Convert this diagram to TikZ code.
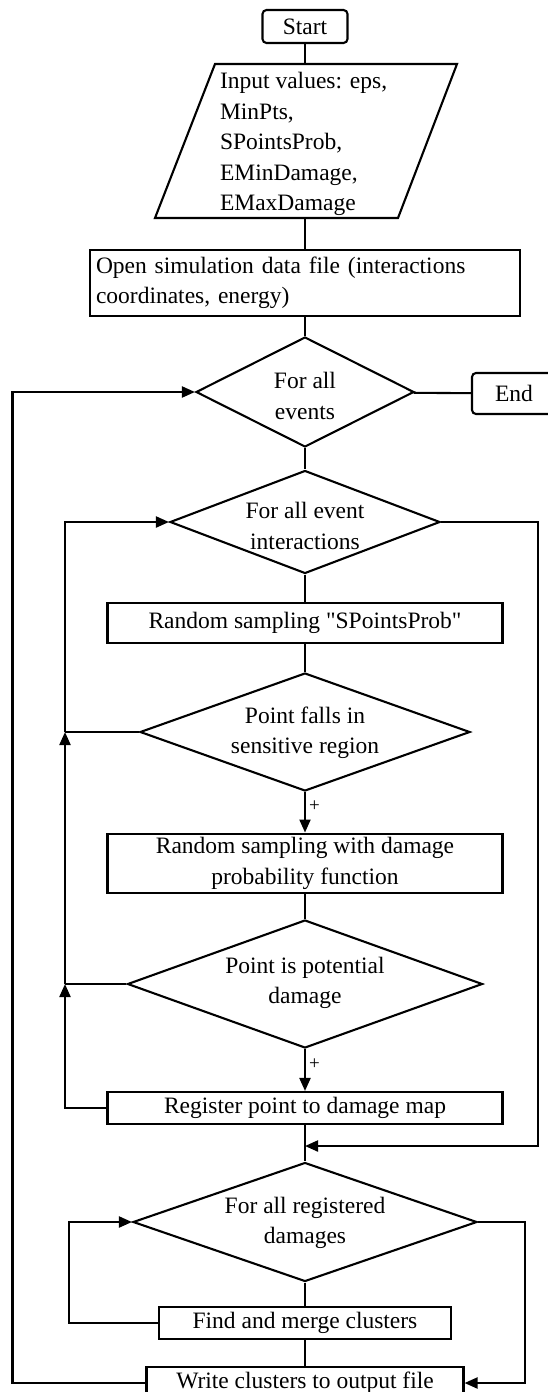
\documentclass[tikz,border=0pt]{standalone}
\usepackage{fontspec}
\setmainfont{Liberation Serif}
\usetikzlibrary{arrows.meta,shapes.geometric}
\tikzset{
  flowbox/.style={draw, rectangle, inner sep=4pt, minimum height=32pt},
  termbox/.style={draw, rectangle, rounded corners=4pt, inner sep=2pt},
  decision/.style={draw, diamond, inner sep=0pt},
  flowtext/.style={align=center, inner sep=0pt},
  signlabel/.style={font=\fontsize{19}{19}\selectfont, inner sep=3pt},
}
\begin{document}
\begin{tikzpicture}[x=1pt, y=-1pt, >={Triangle[length=13pt,width=11pt]}, line width=2.1pt, every node/.style={font=\fontsize{23.5}{30.5}\selectfont}]
      \useasboundingbox (0,0) rectangle (548,1392);

      \node[termbox, minimum width=85pt, minimum height=33pt] (start) at (305,26.5) {Start};
      \draw (215,64) -- (457,64) -- (398,218) -- (155,218) -- cycle;
      \coordinate (inptop) at (305,64);
      \coordinate (inpbot) at (305,218);
      \node[align=left, anchor=west, inner sep=0pt] (inptext) at (219,144) {Input values: eps,\\MinPts,\\SPointsProb,\\EMinDamage,\\EMaxDamage};
      \node[flowbox, text width=418pt, align=left, inner sep=6pt, minimum height=66pt] (open) at (305,283) {Open simulation data file (interactions\\coordinates, energy)};
      \node[decision, minimum width=218pt, minimum height=110pt] (d1) at (305,392) {};
      \node[flowtext] (d1text) at (305,396) {For all\\events};
      \node[termbox, minimum width=84pt, minimum height=41pt] (end) at (514,393.5) {End};
      \node[decision, minimum width=270pt, minimum height=103pt] (d2) at (305,522) {};
      \node[flowtext] (d2text) at (305,526) {For all event\\interactions};
      \node[flowbox, minimum width=395pt, minimum height=40pt] (samp) at (305,623) {Random sampling \textquotedbl SPointsProb\textquotedbl};
      \node[decision, minimum width=330pt, minimum height=118pt] (d3) at (305,732) {};
      \node[flowtext] (d3text) at (305,733) {Point falls in\\sensitive region};
      \node[flowbox, minimum width=395pt, minimum height=59pt, align=center] (dmg) at (305,863.5) {Random sampling with damage\\probability function};
      \node[decision, minimum width=355pt, minimum height=128pt] (d4) at (305,984) {};
      \node[flowtext] (d4text) at (305,983) {Point is potential\\damage};
      \node[flowbox, minimum width=395pt] (reg) at (305,1108) {Register point to damage map};
      \node[decision, minimum width=344pt, minimum height=119pt] (d5) at (305,1222) {};
      \node[flowtext] (d5text) at (305,1223) {For all registered\\damages};
      \node[flowbox, minimum width=292pt] (find) at (305,1323) {Find and merge clusters};
      \node[flowbox, minimum width=317pt] (write) at (305,1383) {Write clusters to output file};

      \coordinate (jA) at (65,984);
      \coordinate (jB) at (65,732);
      \coordinate (jC) at (305,1146);

      \draw (start) -- (inptop);
      \draw (inpbot) -- (open);
      \draw (open) -- (d1);
      \draw (d1) -- (end);
      \draw (d1) -- (d2);
      \draw (d2) -- (samp);
      \draw (samp) -- (d3);
      \draw[->] (d3) -- (dmg) node[signlabel, pos=0.35, right] {+};
      \draw (dmg) -- (d4);
      \draw[->] (d4) -- (reg) node[signlabel, pos=0.35, right] {+};
      \draw (reg) -- (d5);
      \draw (d5) -- (find);
      \draw (find) -- (write);

      \draw[->] (d2.east) -- ++(97,0) |- (jC);
      \draw (d3.west) -- (jB);
      \draw (d4.west) -- (jA);
      \draw[->] (reg.west) -| (jA);
      \draw[->] (jA) -- (jB);
      \draw[->] (jB) |- (d2.west);

      \draw[->] (write.west) -- ++(-133,0) |- (d1.west);
      \draw[->] (find.west) -- ++(-89,0) |- (d5.west);
      \draw[->] (d5.east) -- ++(47,0) |- (write.east);
    \end{tikzpicture}
\end{document}
